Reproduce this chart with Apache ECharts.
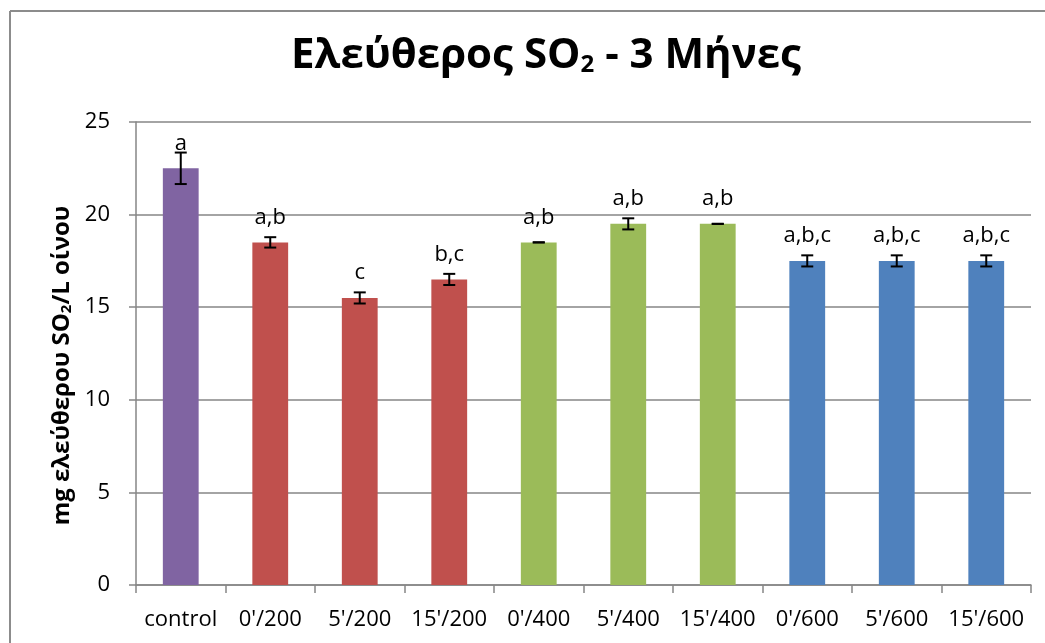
<!DOCTYPE html>
<html>
<head>
<meta charset="utf-8">
<script src="https://cdn.jsdelivr.net/npm/echarts@6/dist/echarts.min.js"></script>
<style>
  html, body { margin: 0; padding: 0; background: #ffffff; overflow: hidden; }
  #chart { width: 1045px; height: 643px; }
</style>
</head>
<body>
<div id="chart"></div>
<script>
// Treatments (time / dose) and measured free SO2, mg/L
const categories = ["control", "0'/200", "5'/200", "15'/200", "0'/400", "5'/400", "15'/400", "0'/600", "5'/600", "15'/600"];
const values = [22.5, 18.5, 15.5, 16.5, 18.5, 19.5, 19.5, 17.5, 17.5, 17.5];
const errors = [0.85, 0.28, 0.3, 0.3, 0.0, 0.3, 0.0, 0.3, 0.3, 0.3];
const letters = ["a", "a,b", "c", "b,c", "a,b", "a,b", "a,b", "a,b,c", "a,b,c", "a,b,c"];
const barColors = ["#8064A2", "#C0504D", "#C0504D", "#C0504D", "#9BBB59", "#9BBB59", "#9BBB59", "#4F81BD", "#4F81BD", "#4F81BD"];
const yTicks = [0, 5, 10, 15, 20, 25];

const FONT = "'Open Sans', 'DejaVu Sans', sans-serif";
const GRID_COLOR = '#868686';

const barData = values.map((v, i) => ({
  value: v,
  itemStyle: { color: barColors[i] },
  label: { formatter: letters[i] }
}));

const errData = values.map((v, i) => [i, v - errors[i], v + errors[i]]);

const chart = echarts.init(document.getElementById('chart'), null, { renderer: 'canvas' });

chart.setOption({
  animation: false,
  backgroundColor: '#ffffff',
  // chart frame: top and left edges
  graphic: [
    {
      type: 'line',
      shape: { x1: 10, y1: 11, x2: 1045, y2: 11 },
      style: { stroke: '#8c8c8c', lineWidth: 2 },
      silent: true
    },
    {
      type: 'line',
      shape: { x1: 10, y1: 11, x2: 10, y2: 643 },
      style: { stroke: '#8c8c8c', lineWidth: 2 },
      silent: true
    }
  ],
  title: {
    text: '{m|Ελεύθερος SO}{s|2}{m| - 3 Μήνες}',
    left: 541,
    top: 20,
    textAlign: 'center',
    textStyle: {
      rich: {
        m: { fontFamily: FONT, fontWeight: 'bold', fontSize: 42, color: '#000000', verticalAlign: 'bottom', lineHeight: 52 },
        s: { fontFamily: FONT, fontWeight: 'bold', fontSize: 24, color: '#000000', verticalAlign: 'bottom', lineHeight: 44 }
      }
    }
  },
  grid: { left: 136, right: 14, top: 122, bottom: 58, containLabel: false },
  xAxis: {
    type: 'category',
    data: categories,
    boundaryGap: true,
    axisLine: { show: true, lineStyle: { color: GRID_COLOR, width: 1.5 } },
    axisTick: { show: true, length: 8, lineStyle: { color: GRID_COLOR, width: 1.5 } },
    axisLabel: { color: '#000000', fontFamily: FONT, fontSize: 22, margin: 24, interval: 0 }
  },
  yAxis: {
    type: 'value',
    min: yTicks[0],
    max: yTicks[yTicks.length - 1],
    interval: 5,
    name: '{m|mg ελεύθερου SO}{s|2}{m|/L οίνου}',
    nameLocation: 'middle',
    nameGap: 60,
    nameRotate: 90,
    nameTextStyle: {
      padding: [0, 24, 0, 0],
      rich: {
        m: { fontFamily: FONT, fontWeight: 'bold', fontSize: 24, color: '#000000', verticalAlign: 'bottom', lineHeight: 30 },
        s: { fontFamily: FONT, fontWeight: 'bold', fontSize: 15, color: '#000000', verticalAlign: 'bottom', lineHeight: 26 }
      }
    },
    axisLine: { show: true, lineStyle: { color: GRID_COLOR, width: 1.5 } },
    axisTick: { show: true, length: 7, lineStyle: { color: GRID_COLOR, width: 1.5 } },
    axisLabel: { color: '#000000', fontFamily: FONT, fontSize: 22, margin: 26 },
    splitLine: { show: true, lineStyle: { color: GRID_COLOR, width: 1.5 } }
  },
  series: [
    {
      type: 'bar',
      data: barData,
      barWidth: '40%',
      label: {
        show: true,
        position: 'top',
        distance: 14,
        color: '#000000',
        fontFamily: FONT,
        fontSize: 22
      },
      z: 2
    },
    {
      type: 'custom',
      data: errData,
      z: 3,
      renderItem: function (params, api) {
        const x = api.value(0);
        const lo = api.coord([x, api.value(1)]);
        const hi = api.coord([x, api.value(2)]);
        const half = 6;
        const style = { stroke: '#000000', lineWidth: 2 };
        return {
          type: 'group',
          children: [
            { type: 'line', shape: { x1: lo[0], y1: lo[1], x2: hi[0], y2: hi[1] }, style: style },
            { type: 'line', shape: { x1: lo[0] - half, y1: lo[1], x2: lo[0] + half, y2: lo[1] }, style: style },
            { type: 'line', shape: { x1: hi[0] - half, y1: hi[1], x2: hi[0] + half, y2: hi[1] }, style: style }
          ]
        };
      }
    }
  ]
});
</script>
</body>
</html>
